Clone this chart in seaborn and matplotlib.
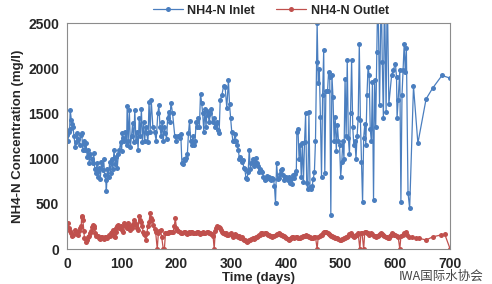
import seaborn as sns
import matplotlib.pyplot as plt
import pandas as pd

# NH4-N inlet (day, mg/l)
inlet_days = [0, 2, 3, 5, 6, 8, 9, 11, 13, 15, 17, 19, 21, 23, 25, 27, 29, 31, 33, 35,
              37, 39, 41, 43, 45, 47, 49, 51, 53, 55, 57, 59, 61, 63, 65, 67, 69, 71, 72, 74,
              76, 78, 80, 82, 84, 86, 88, 90, 92, 94, 96, 98, 100, 101, 103, 105, 107, 109, 110, 112,
              114, 116, 118, 120, 122, 124, 126, 128, 130, 132, 134, 136, 138, 140, 142, 144, 146, 148, 150, 152,
              154, 157, 160, 163, 166, 168, 170, 172, 174, 176, 178, 180, 182, 184, 186, 188, 190, 193, 197, 200,
              203, 206, 208, 210, 212, 214, 216, 218, 220, 222, 224, 226, 228, 230, 232, 234, 236, 238, 240, 242,
              244, 246, 248, 250, 252, 254, 256, 258, 260, 262, 264, 266, 268, 270, 272, 274, 276, 278, 280, 283,
              286, 289, 292, 295, 297, 299, 301, 303, 305, 307, 309, 311, 313, 315, 317, 319, 321, 323, 325, 327,
              329, 331, 333, 335, 337, 339, 341, 343, 345, 347, 349, 351, 353, 355, 357, 359, 361, 363, 365, 367,
              369, 371, 373, 375, 377, 379, 381, 383, 385, 387, 389, 391, 393, 395, 397, 399, 401, 403, 405, 407,
              409, 411, 413, 415, 417, 419, 420, 422, 424, 426, 428, 430, 432, 434, 436, 438, 440, 442, 444, 446,
              448, 450, 452, 454, 456, 457, 459, 461, 463, 465, 467, 469, 471, 473, 476, 478, 480, 482, 484, 486,
              488, 490, 492, 494, 496, 498, 500, 502, 504, 506, 508, 510, 512, 514, 516, 518, 520, 522, 524, 526,
              528, 530, 532, 534, 536, 538, 540, 542, 544, 546, 548, 550, 552, 554, 556, 558, 560, 562, 564, 566,
              568, 571, 574, 576, 578, 580, 583, 585, 588, 593, 596, 600, 602, 603, 605, 608, 610, 612, 614, 616,
              618, 620, 623, 626, 633, 641, 656, 668, 685, 700]
inlet_vals = [1260, 1190, 1300, 1330, 1540, 1430, 1380, 1350, 1250, 1130, 1180, 1280, 1220, 1150, 1260, 1280, 1100, 1200, 1100, 1170,
              1020, 1100, 950, 1050, 1000, 950, 1060, 880, 840, 950, 800, 900, 780, 960, 870, 1000, 820, 760, 640, 880,
              800, 960, 840, 1000, 880, 1100, 940, 1020, 900, 1050, 1100, 1180, 1080, 1280, 1230, 1200, 1300, 1150, 1580, 1200,
              1540, 1130, 1250, 1390, 1180, 1540, 1200, 1300, 1100, 1450, 1250, 1550, 1180, 1400, 1200, 1350, 1280, 1180, 1630, 1300,
              1650, 1350, 1300, 1200, 1500, 1590, 1350, 1250, 1400, 1200, 1350, 1280, 1220, 1450, 1520, 1400, 1620, 1500, 1250, 1200,
              1250, 1230, 1270, 950, 940, 1000, 980, 1010, 1050, 1280, 1420, 1200, 1150, 1250, 1150, 1200, 1400, 1350, 1450, 1350,
              1720, 1620, 1500, 1300, 1550, 1350, 1530, 1480, 1400, 1500, 1550, 1400, 1450, 1350, 1380, 1400, 1320, 1280, 1650, 1700,
              1800, 1790, 1560, 1870, 1600, 1450, 1300, 1200, 1190, 1270, 1200, 1150, 1100, 1000, 1020, 960, 980, 900, 880, 790,
              780, 850, 1100, 880, 950, 1000, 920, 950, 1010, 950, 920, 850, 880, 860, 850, 800, 760, 780, 810, 790,
              800, 780, 760, 790, 780, 700, 510, 950, 780, 790, 830, 870, 880, 820, 760, 790, 800, 760, 800, 730,
              780, 720, 820, 790, 830, 860, 1300, 1330, 1000, 1150, 800, 1170, 740, 1180, 1500, 730, 660, 1520, 690, 660,
              700, 780, 850, 1200, 2070, 2500, 1840, 1990, 1460, 800, 1700, 2200, 840, 1750, 1750, 1960, 1900, 380, 1920, 1680,
              1200, 1460, 1090, 1370, 1200, 1150, 800, 960, 1200, 1000, 1880, 1250, 2090, 1230, 1050, 1500, 2090, 1350, 1150, 1200,
              1000, 1250, 1450, 2270, 1430, 960, 520, 1230, 1380, 1150, 1700, 2010, 1930, 1330, 1190, 1850, 540, 1870, 1350, 2180,
              2900, 1590, 2900, 2070, 1450, 2900, 1520, 2900, 1600, 1920, 1980, 2050, 1900, 1450, 1650, 1980, 520, 1700, 1980, 2270,
              1960, 2220, 620, 450, 1800, 1170, 1660, 1780, 1920, 1890]

# NH4-N outlet (day, mg/l)
outlet_days = [2, 4, 6, 8, 10, 12, 14, 16, 18, 20, 22, 24, 26, 27, 28, 29, 31, 32, 34, 36,
               38, 40, 42, 44, 46, 47, 49, 50, 52, 54, 56, 58, 60, 62, 64, 66, 68, 70, 72, 74,
               76, 78, 80, 82, 84, 86, 87, 89, 90, 92, 94, 96, 98, 100, 102, 104, 106, 107, 109, 110,
               112, 114, 116, 118, 119, 121, 122, 124, 126, 128, 130, 132, 134, 136, 138, 139, 141, 142, 144, 146,
               148, 150, 152, 154, 156, 158, 160, 162, 165, 167, 169, 171, 173, 176, 178, 180, 182, 185, 187, 189,
               192, 194, 196, 198, 200, 201, 203, 206, 208, 211, 213, 215, 217, 219, 221, 223, 225, 227, 229, 231,
               233, 235, 237, 239, 241, 243, 245, 247, 249, 251, 253, 255, 257, 259, 261, 263, 265, 267, 269, 271,
               273, 275, 277, 279, 281, 283, 285, 287, 289, 291, 293, 295, 297, 299, 301, 303, 305, 307, 309, 311,
               313, 315, 317, 319, 321, 323, 325, 327, 329, 331, 333, 335, 337, 339, 341, 343, 345, 347, 349, 351,
               353, 355, 357, 359, 361, 363, 365, 367, 369, 371, 373, 375, 377, 379, 381, 383, 385, 387, 389, 391,
               393, 395, 397, 399, 401, 403, 405, 407, 409, 411, 413, 415, 418, 420, 422, 424, 426, 428, 430, 432,
               434, 436, 438, 440, 442, 444, 446, 448, 450, 452, 454, 457, 459, 462, 464, 466, 468, 470, 472, 474,
               476, 478, 480, 482, 484, 486, 488, 490, 492, 494, 496, 498, 500, 502, 504, 506, 508, 510, 512, 514,
               516, 518, 520, 522, 524, 526, 528, 530, 532, 535, 537, 539, 542, 544, 546, 548, 550, 552, 554, 556,
               558, 560, 562, 564, 566, 568, 570, 572, 574, 576, 578, 580, 582, 584, 586, 588, 590, 592, 594, 596,
               598, 600, 602, 605, 608, 610, 613, 616, 619, 622, 625, 631, 637, 643, 656, 668, 683, 690, 700]
outlet_vals = [285, 230, 200, 175, 140, 160, 210, 190, 170, 155, 200, 230, 250, 370, 350, 320, 200, 120, 80, 100,
               135, 150, 175, 200, 240, 265, 250, 230, 175, 150, 140, 120, 110, 130, 135, 120, 115, 130, 135, 120,
               155, 140, 175, 190, 210, 150, 135, 190, 230, 250, 265, 230, 250, 210, 190, 285, 250, 265, 230, 240,
               285, 250, 210, 230, 250, 280, 320, 290, 265, 230, 210, 370, 320, 300, 250, 190, 170, 155, 100, 180,
               250, 300, 395, 340, 320, 265, 220, 190, 0, 175, 200, 210, 135, 0, 0, 175, 180, 175, 185, 190,
               185, 190, 250, 340, 230, 210, 200, 190, 180, 175, 185, 190, 180, 170, 175, 185, 180, 190, 185, 175,
               180, 175, 185, 190, 180, 170, 175, 180, 190, 175, 180, 185, 190, 180, 175, 165, 170, 140, 0, 200,
               230, 250, 245, 230, 210, 190, 175, 180, 170, 175, 160, 155, 165, 175, 160, 135, 150, 170, 160, 140,
               135, 150, 120, 130, 110, 100, 95, 90, 80, 90, 100, 100, 110, 120, 115, 120, 135, 130, 140, 155,
               160, 175, 175, 170, 175, 175, 165, 160, 155, 145, 140, 135, 145, 150, 155, 165, 170, 175, 165, 160,
               155, 145, 140, 135, 120, 110, 100, 110, 120, 135, 130, 125, 135, 130, 125, 120, 125, 130, 135, 145,
               150, 155, 150, 140, 135, 130, 125, 120, 125, 130, 135, 0, 135, 150, 160, 155, 175, 185, 190, 185,
               175, 165, 155, 150, 140, 135, 130, 125, 120, 120, 110, 105, 100, 110, 115, 120, 125, 130, 135, 150,
               165, 175, 160, 150, 135, 145, 155, 160, 175, 0, 175, 180, 0, 185, 190, 180, 175, 160, 165, 175,
               170, 150, 140, 135, 145, 150, 155, 165, 175, 170, 160, 150, 135, 130, 125, 120, 140, 160, 175, 165,
               160, 155, 145, 135, 0, 140, 155, 175, 190, 160, 135, 135, 120, 120, 100, 135, 155, 165, 0]

inlet = pd.DataFrame({'day': inlet_days, 'conc': inlet_vals})
outlet = pd.DataFrame({'day': outlet_days, 'conc': outlet_vals})

sns.set_style('white')
plt.rcParams['font.family'] = ['Liberation Sans', 'DejaVu Sans']

fig, ax = plt.subplots(figsize=(4.92, 2.84), dpi=100)
fig.subplots_adjust(left=0.136, right=0.915, bottom=0.123, top=0.919)

blue = '#4a7ebf'
red = '#c0504d'
sns.lineplot(data=inlet, x='day', y='conc', ax=ax, estimator=None, color=blue,
             linewidth=0.9, marker='o', markersize=3.6, markeredgewidth=0,
             label='NH4-N Inlet')
sns.lineplot(data=outlet, x='day', y='conc', ax=ax, estimator=None, color=red,
             linewidth=0.9, marker='o', markersize=3.6, markeredgewidth=0,
             label='NH4-N Outlet')

ax.set_xlim(0, 700)
ax.set_ylim(0, 2500)
ax.set_xticks(range(0, 701, 100))
ax.set_yticks(range(0, 2501, 500))
ax.tick_params(labelsize=10, pad=2)
for lab in ax.get_xticklabels() + ax.get_yticklabels():
    lab.set_fontweight('bold')
ax.set_xlabel('Time (days)', fontsize=9.5, fontweight='bold', labelpad=1)
ax.set_ylabel('NH4-N Concentration (mg/l)', fontsize=9.5, fontweight='bold', labelpad=3)
for s in ax.spines.values():
    s.set_color('#8c8c8c')
    s.set_linewidth(0.8)

ax.legend_.remove()
h, l = ax.get_legend_handles_labels()
leg = fig.legend(h, l, loc='upper center', bbox_to_anchor=(0.55, 1.03), ncol=2,
                 frameon=False, handlelength=2.2, columnspacing=1.5, handletextpad=0.3)
for t in leg.get_texts():
    t.set_fontweight('bold')
    t.set_fontsize(9)

# watermark in the lower right corner, kept just below the tick labels
fig.text(0.81, 0.028, 'IWA国际水协会', fontsize=9, color='#444444', ha='left', va='center',
         family=['Noto Sans CJK SC', 'DejaVu Sans'])

fig.savefig('out.png', dpi=100)
